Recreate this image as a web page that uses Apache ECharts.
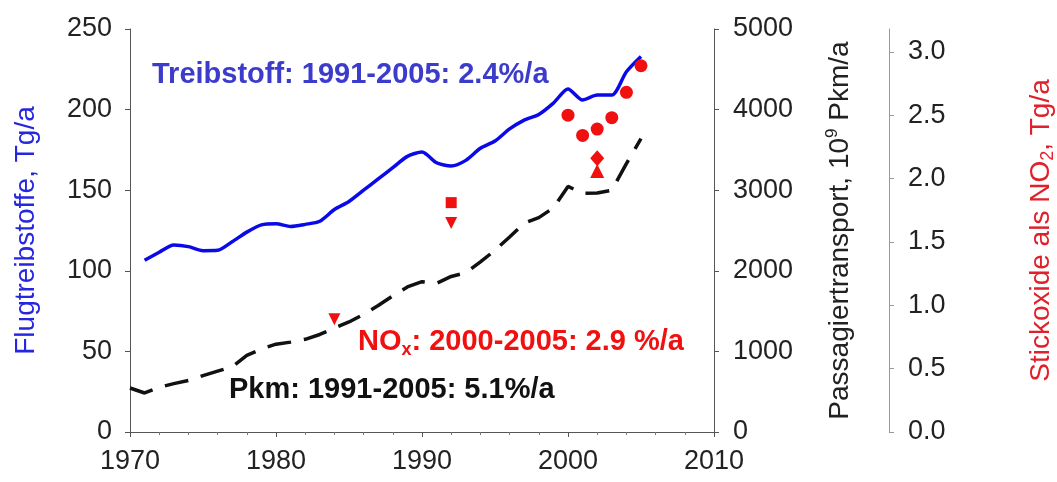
<!DOCTYPE html>
<html>
<head>
<meta charset="utf-8">
<script src="https://cdn.jsdelivr.net/npm/echarts@6/dist/echarts.min.js"></script>
<style>
  html, body { margin: 0; padding: 0; background: #fff; }
  #chart { width: 1057px; height: 482px; }
</style>
</head>
<body>
<div id="chart"></div>
<script>
// Flugtreibstoffe, Tg/a (left axis)
const fuelYears = [1971, 1972, 1973, 1974, 1975, 1976, 1977, 1978, 1979, 1980,
  1981, 1982, 1983, 1984, 1985, 1986, 1987, 1988, 1989, 1990,
  1991, 1992, 1993, 1994, 1995, 1996, 1997, 1998, 1999, 2000,
  2001, 2002, 2003, 2004, 2005]
const fuelValues = [106.5, 111.5, 116, 115, 112.5, 112.7, 118, 124, 128.5, 129.2,
  127.5, 128.8, 130.7, 138, 143, 150, 157, 164, 171, 173.7,
  167, 165, 168.5, 176, 180.5, 188, 193.5, 197, 204, 212.8,
  206, 209, 209, 223.5, 233]

// Passagiertransport, 10^9 Pkm/a (first right axis)
const pkmYears = [1970, 1971, 1972, 1973, 1974, 1975, 1976, 1977, 1978, 1979,
  1980, 1981, 1982, 1983, 1984, 1985, 1986, 1987, 1988, 1989,
  1990, 1991, 1992, 1993, 1994, 1995, 1996, 1997, 1998, 1999,
  2000, 2001, 2002, 2003, 2004, 2005]
const pkmValues = [546, 484, 555, 600, 640, 700, 755, 810, 950, 1030,
  1090, 1115, 1150, 1210, 1290, 1365, 1460, 1570, 1690, 1800,
  1865, 1845, 1930, 1975, 2110, 2255, 2420, 2590, 2660, 2780,
  3047, 2960, 2965, 3000, 3330, 3640]

// Stickoxide als NO2, Tg/a (second right axis)
const noxCircleYears = [2000, 2001, 2002, 2003, 2004, 2005]
const noxCircleValues = [2.50, 2.34, 2.39, 2.48, 2.68, 2.89]
const noxSquareYears = [1992]
const noxSquareValues = [1.81]
const noxDownTriYears = [1984, 1992]
const noxDownTriValues = [0.89, 1.65]
const noxDiamondYears = [2002]
const noxDiamondValues = [2.16]
const noxUpTriYears = [2002]
const noxUpTriValues = [2.06]

const noxTicks = [0, 0.5, 1.0, 1.5, 2.0, 2.5, 3.0]

const zip = (xs, ys) => xs.map((x, i) => [x, ys[i]])

const FONT = '"Liberation Sans", Arial, sans-serif'
const RED = '#f01010'

const chart = echarts.init(document.getElementById('chart'))

chart.setOption({
  animation: false,
  backgroundColor: '#fff',
  textStyle: { fontFamily: FONT },
  grid: { left: 130, right: 343, top: 29, bottom: 50, containLabel: false, outerBoundsMode: 'none' },
  xAxis: [
    {
      type: 'value',
      min: 1970,
      max: 2010,
      interval: 10,
      axisLine: { lineStyle: { color: '#555', width: 1 } },
      axisTick: { length: 5, lineStyle: { color: '#555' } },
      minorTick: { show: true, splitNumber: 5, length: 3, lineStyle: { color: '#777' } },
      splitLine: { show: false },
      axisLabel: { fontSize: 27, color: '#222', margin: 16, fontFamily: FONT, formatter: (v) => String(v) },
    },
    {
      type: 'value',
      position: 'top',
      min: 1970,
      max: 2010,
      interval: 10,
      axisLine: { lineStyle: { color: '#555', width: 1 } },
      axisTick: { inside: true, length: 4, lineStyle: { color: '#555' } },
      minorTick: { show: true, splitNumber: 5, length: 3, lineStyle: { color: '#777' } },
      splitLine: { show: false },
      axisLabel: { show: false },
    },
  ],
  yAxis: [
    {
      type: 'value',
      position: 'left',
      min: 0,
      max: 250,
      interval: 50,
      axisLine: { show: true, lineStyle: { color: '#555' } },
      axisTick: { show: true, length: 5, lineStyle: { color: '#555' } },
      splitLine: { show: false },
      axisLabel: { fontSize: 27, color: '#222', margin: 18, fontFamily: FONT },
      name: 'Flugtreibstoffe, Tg/a',
      nameLocation: 'middle',
      nameGap: 90,
      nameTextStyle: { fontSize: 28, color: '#2626e0', fontFamily: FONT },
    },
    {
      type: 'value',
      position: 'right',
      min: 0,
      max: 5000,
      interval: 1000,
      axisLine: { show: true, lineStyle: { color: '#555' } },
      axisTick: { show: true, length: 5, lineStyle: { color: '#555' } },
      splitLine: { show: false },
      axisLabel: { fontSize: 27, color: '#222', margin: 19, fontFamily: FONT, formatter: (v) => String(v) },
      name: 'Passagiertransport, 10{sup|9} Pkm/a',
      nameLocation: 'middle',
      nameGap: 110,
      nameTextStyle: {
        fontSize: 28,
        lineHeight: 32,
        color: '#222',
        fontFamily: FONT,
        rich: {
          sup: { fontSize: 17, lineHeight: 17, verticalAlign: 'top', color: '#222', fontFamily: FONT },
        },
      },
    },
    {
      type: 'value',
      position: 'right',
      offset: 175,
      min: 0,
      max: 3.18,
      axisLine: { show: true, lineStyle: { color: '#999' } },
      axisTick: { show: true, length: 5, customValues: noxTicks, lineStyle: { color: '#999' } },
      splitLine: { show: false },
      axisLabel: {
        fontSize: 27,
        color: '#222',
        margin: 19,
        fontFamily: FONT,
        customValues: noxTicks,
        formatter: (v) => v.toFixed(1),
      },
      name: 'Stickoxide als NO{sub|2}, Tg/a',
      nameLocation: 'middle',
      nameGap: 136,
      nameTextStyle: {
        fontSize: 28,
        lineHeight: 32,
        color: '#e0202a',
        fontFamily: FONT,
        rich: {
          sub: { fontSize: 18, lineHeight: 18, verticalAlign: 'bottom', color: '#e0202a', fontFamily: FONT },
        },
      },
    },
  ],
  graphic: [
    {
      type: 'text',
      x: 152,
      y: 75,
      style: {
        text: 'Treibstoff: 1991-2005: 2.4%/a',
        fill: '#3c3ccc',
        font: 'bold 29px ' + FONT,
        verticalAlign: 'middle',
      },
    },
    {
      type: 'text',
      x: 358,
      y: 342,
      style: {
        text: '{a|NO}{s|x}{a|: 2000-2005: 2.9 %/a}',
        fill: RED,
        verticalAlign: 'middle',
        rich: {
          a: { font: 'bold 29px ' + FONT, fill: RED, lineHeight: 34 },
          s: { font: 'bold 18px ' + FONT, fill: RED, lineHeight: 20, verticalAlign: 'bottom' },
        },
      },
    },
    {
      type: 'text',
      x: 229,
      y: 390,
      style: {
        text: 'Pkm: 1991-2005: 5.1%/a',
        fill: '#111',
        font: 'bold 29px ' + FONT,
        verticalAlign: 'middle',
      },
    },
  ],
  series: [
    {
      name: 'Treibstoff',
      type: 'line',
      xAxisIndex: 0,
      yAxisIndex: 0,
      data: zip(fuelYears, fuelValues),
      showSymbol: false,
      smooth: 0.25,
      lineStyle: { color: '#0a0ae8', width: 3.5 },
      z: 3,
    },
    {
      name: 'Pkm',
      type: 'line',
      xAxisIndex: 0,
      yAxisIndex: 1,
      data: zip(pkmYears, pkmValues),
      showSymbol: false,
      lineStyle: { color: '#111', width: 3.5, type: [24, 13] },
      z: 3,
    },
    {
      type: 'scatter',
      yAxisIndex: 2,
      data: zip(noxCircleYears, noxCircleValues),
      symbol: 'circle',
      symbolSize: 13,
      itemStyle: { color: RED, opacity: 1 },
      z: 4,
    },
    {
      type: 'scatter',
      yAxisIndex: 2,
      data: zip(noxSquareYears, noxSquareValues),
      symbol: 'rect',
      symbolSize: 11,
      itemStyle: { color: RED, opacity: 1 },
      z: 4,
    },
    {
      type: 'scatter',
      yAxisIndex: 2,
      data: zip(noxDownTriYears, noxDownTriValues),
      symbol: 'triangle',
      symbolRotate: 180,
      symbolSize: 12,
      itemStyle: { color: RED, opacity: 1 },
      z: 4,
    },
    {
      type: 'scatter',
      yAxisIndex: 2,
      data: zip(noxDiamondYears, noxDiamondValues),
      symbol: 'diamond',
      symbolSize: [14, 16],
      itemStyle: { color: RED, opacity: 1 },
      z: 4,
    },
    {
      type: 'scatter',
      yAxisIndex: 2,
      data: zip(noxUpTriYears, noxUpTriValues),
      symbol: 'triangle',
      symbolSize: 14,
      itemStyle: { color: RED, opacity: 1 },
      z: 4,
    },
  ],
})

window.addEventListener('resize', () => {
  chart.resize()
})
</script>
</body>
</html>
